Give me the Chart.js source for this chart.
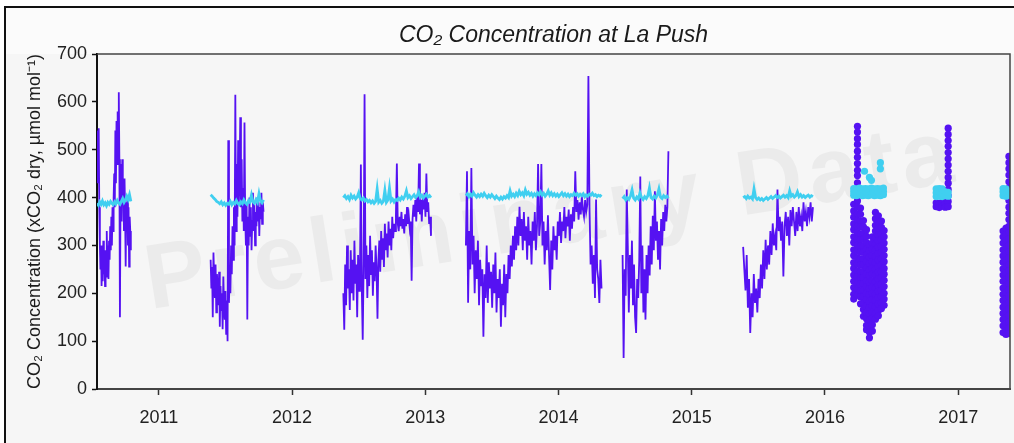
<!DOCTYPE html>
<html>
<head>
<meta charset="utf-8">
<title>CO2 Concentration at La Push</title>
<script src="https://cdn.jsdelivr.net/npm/chart.js@4.4.0/dist/chart.umd.min.js"></script>
<style>
  html, body { margin: 0; padding: 0; background: #ffffff; }
  #wrap { position: relative; width: 1014px; height: 443px; }
</style>
</head>
<body>
<div id="wrap"><canvas id="co2" width="1014" height="443"></canvas></div>
<script>
// ---- axis settings ----
const yearTicks = [2011, 2012, 2013, 2014, 2015, 2016, 2017];
const yTickValues = [0, 50, 100, 150, 200, 250, 300, 350, 400, 450, 500, 550, 600, 650, 700];
const xRange = [2010.536, 2017.389];
const yRange = [0, 700];

// ---- continuous moorings: [start, end] in decimal years ----
const mooringSpans = [
  [2010.536, 2010.790],
  [2011.389, 2011.786],
  [2012.385, 2013.043],
  [2013.305, 2014.323],
  [2014.481, 2014.825],
  [2015.386, 2015.910]
];

// seawater xCO2 (µmol/mol), evenly sampled across each mooring span
const sw2010 = [540, 430, 510, 545, 380, 300, 250, 300, 215, 280, 225, 310, 240, 270, 215, 290, 235, 330, 260, 300,
  230, 310, 270, 340, 290, 360, 300, 380, 330, 400, 450, 380, 540, 430, 560, 470, 580, 500, 620, 480,
  150, 400, 470, 350, 480, 390, 420, 330, 440, 370, 256, 390, 340, 400, 300, 380, 256, 360, 330, 290];
const sw2011 = [270, 210, 255, 150, 285, 230, 190, 260, 160, 240, 200, 175, 245, 130, 215, 165, 200, 125, 235, 170,
  145, 205, 115, 185, 100, 520, 180, 250, 200, 300, 240, 340, 270, 380, 300, 615, 330, 470, 360, 520,
  390, 440, 568, 380, 480, 350, 420, 330, 557, 360, 300, 390, 145, 360, 300, 400, 320, 380, 290, 350,
  410, 330, 385, 300, 370, 340, 400, 350, 390, 320, 380, 355, 410, 345, 390, 370];
const sw2012 = [200, 124, 260, 175, 300, 210, 250, 165, 290, 200, 270, 185, 310, 220, 260, 150, 280, 205, 240, 469,
  210, 103, 260, 616, 230, 300, 190, 280, 215, 320, 240, 290, 195, 265, 225, 300, 250, 147, 270, 310,
  245, 330, 270, 315, 255, 345, 290, 325, 275, 350, 300, 335, 290, 360, 315, 345, 330, 365, 471, 345,
  330, 360, 340, 370, 335, 355, 325, 365, 340, 380, 345, 360, 335, 350, 226, 355, 385, 360, 395, 350,
  400, 370, 471, 365, 395, 350, 400, 375, 410, 360, 450, 370, 390, 345, 360, 320];
const sw2013 = [300, 455, 180, 330, 250, 462,
  260, 320, 200, 290, 230, 310, 175, 270, 215, 250, 109, 240, 190, 300, 180, 265, 210, 245,
  170, 260, 200, 285, 160, 230, 190, 250, 130, 220, 175, 260, 150, 240, 200, 280,
  230, 300, 256, 320, 270, 340, 290, 360, 300, 381, 320, 355, 290, 370, 310,
  340, 270, 360, 300, 330, 260, 350, 310, 370, 290, 340, 470, 320, 350, 470,
  300, 350, 260, 330, 290, 363, 280, 207, 310, 250, 340, 290, 320, 270, 350,
  320, 370, 305, 350, 330, 380, 315, 360, 340, 375, 310, 365, 335, 380, 350, 455,
  370, 395, 354, 390, 365, 402, 375, 360, 395, 370, 385, 654,
  380, 260, 300, 220, 280, 190, 396, 250, 230, 180, 270, 210];
const sw2014 = [280, 65, 250, 195, 417, 300, 160, 280, 210, 310, 175, 260, 150, 117, 230, 190, 270, 444, 200, 300,
  160, 250, 145, 280, 200, 300, 237, 340, 260, 362, 290, 413, 310, 350, 270, 330, 250, 355, 300, 370,
  330, 385, 350, 380, 497];
const sw2015 = [297, 250, 206, 280, 170, 230, 117, 200, 150, 240, 180, 210, 160, 230, 190, 260, 210, 290, 230, 312,
  250, 300, 260, 330, 280, 346, 300, 320, 290, 417, 330, 360, 310, 350, 235, 340, 370, 320, 360, 300,
  374, 340, 380, 350, 320, 370, 330, 380, 340, 360, 330, 390, 350, 370, 340, 380, 360, 390, 350, 380];

// atmospheric xCO2 (µmol/mol), same spans
const air2010 = [388, 384, 391, 386, 393, 385, 389, 383, 390, 386, 392, 388, 385, 391, 387, 394, 389, 386, 392, 398,
  390, 395, 403, 396, 406, 392];
const air2011 = [406, 403, 399, 396, 392, 390, 387, 391, 385, 389, 384, 388, 386, 392, 385, 390, 387, 394, 388, 385,
  391, 387, 395, 389, 386, 393, 390, 405, 391, 388, 396, 390, 408, 393, 389, 395];
const air2012 = [400, 404, 398, 402, 396, 405, 399, 403, 397, 401, 410, 398, 395, 399, 393, 396, 391, 394, 389, 393,
  388, 392, 418, 390, 394, 388, 392, 415, 390, 395, 420, 393, 397, 391, 396, 394, 399, 395, 401, 397,
  403, 414, 400, 404, 398, 402, 406, 400, 404, 412, 401, 405, 399, 403, 407, 401, 404, 400];
const air2013 = [404, 408, 402, 407, 403, 410, 405, 401, 406, 402, 407, 403, 409, 404, 400, 405, 401, 406, 402, 398,
  403, 399, 396, 401, 397, 402, 399, 404, 400, 414, 403, 407, 402, 409, 404, 413, 406, 410, 404, 416,
  407, 411, 405, 409, 403, 408, 404, 410, 406, 412, 405, 409, 403, 407, 414, 405, 410, 404, 408, 403,
  407, 402, 406, 410, 404, 408, 403, 407, 402, 406, 404, 409, 405, 408, 403, 407, 404, 408, 402, 406,
  403, 407, 405, 409, 404, 406, 402, 405, 403, 406];
const air2014 = [398, 402, 395, 400, 396, 403, 416, 399, 395, 401, 397, 410, 400, 396, 402, 398, 404, 420, 400, 397,
  403, 399, 405, 418, 401, 398, 404, 400, 403, 399];
const air2015 = [400, 402, 398, 403, 399, 401, 397, 418, 400, 396, 399, 395, 398, 394, 397, 400, 396, 399, 402, 398,
  401, 404, 400, 403, 399, 402, 405, 401, 404, 400, 414, 403, 406, 401, 404, 412, 402, 406, 401, 404,
  400, 403, 405, 401, 404, 402];

const seawaterRuns = [sw2010, sw2011, sw2012, sw2013, sw2014, sw2015];
const airRuns = [air2010, air2011, air2012, air2013, air2014, air2015];

// ---- discrete samples from 2016 on: [time, readings at that time] ----
const seawaterSamples = [
  [2016.216, [386, 372, 359, 345, 333, 318, 306, 291, 279, 264, 252, 238, 225, 212, 198, 188]],
  [2016.244, [549, 537, 523, 511, 497, 484, 471, 457, 446, 431, 419, 404, 393, 380, 366, 353, 340, 327, 313, 300, 288, 274, 261, 247, 235, 221, 209, 196]],
  [2016.267, [378, 365, 351, 339, 324, 312, 298, 286, 271, 259, 245, 232, 219, 205, 192, 178]],
  [2016.289, [352, 339, 325, 313, 298, 286, 272, 260, 246, 233, 220, 207, 193, 180, 166, 152]],
  [2016.312, [333, 319, 306, 292, 280, 266, 253, 240, 226, 214, 200, 187, 173, 160, 147, 133, 124]],
  [2016.334, [302, 289, 276, 262, 249, 237, 223, 210, 197, 183, 170, 157, 144, 131, 119, 107]],
  [2016.356, [318, 305, 292, 278, 266, 252, 240, 226, 213, 200, 187, 174, 160, 148, 134, 121]],
  [2016.379, [369, 356, 342, 330, 316, 303, 290, 277, 264, 250, 238, 224, 211, 198, 185, 172, 158, 146]],
  [2016.401, [362, 349, 336, 322, 310, 296, 283, 270, 256, 244, 230, 217, 204, 191, 178, 164, 153]],
  [2016.424, [351, 338, 324, 312, 298, 285, 272, 259, 245, 233, 219, 206, 193, 180, 168]],
  [2016.444, [331, 318, 305, 292, 279, 266, 252, 240, 227, 214, 200, 188, 175]],
  [2016.835, [389, 381]],
  [2016.858, [388, 379]],
  [2016.880, [390, 382]],
  [2016.903, [387, 380, 398]],
  [2016.925, [545, 532, 519, 507, 494, 481, 468, 455, 442, 430, 417, 404, 392, 381]],
  [2017.337, [330, 318, 305, 291, 278, 265, 251, 238, 225, 211, 198, 185, 171, 158, 145, 132, 118]],
  [2017.359, [336, 322, 309, 296, 282, 269, 256, 242, 229, 216, 202, 189, 176, 162, 149, 136, 122, 114]],
  [2017.381, [486, 473, 460, 447, 433, 420, 407, 394, 380, 367, 354, 340, 327, 314, 300, 287, 274, 260, 247, 234, 220, 207, 194, 180, 167, 154, 140, 127, 116]],
  [2017.404, [480, 466, 453, 440, 426, 413, 400, 386, 373, 360, 346, 333, 320, 306, 293, 280, 266, 253, 240, 226, 213, 200, 186, 173, 160, 146, 133, 120]]
];
const airSamples = [
  [2016.216, [405, 412, 419]],
  [2016.237, [404, 411, 418]],
  [2016.259, [406, 413, 420]],
  [2016.282, [404, 411, 418]],
  [2016.297, [455]],
  [2016.304, [405, 412, 419]],
  [2016.326, [404, 411, 418]],
  [2016.334, [442]],
  [2016.349, [406, 413, 420, 436]],
  [2016.371, [404, 411, 418]],
  [2016.394, [405, 412, 419]],
  [2016.416, [404, 411, 418, 460, 473]],
  [2016.439, [406, 413, 420]],
  [2016.835, [402, 410, 418]],
  [2016.858, [403, 411, 419]],
  [2016.880, [402, 410, 418]],
  [2016.903, [404, 412]],
  [2016.925, [403, 411]],
  [2017.337, [404, 412, 419]],
  [2017.359, [403, 411, 418]],
  [2017.381, [405, 413]]
];

// ---- colours ----
const seawaterColor = '#5512f2';
const airColor = '#40cff0';
const fontFamily = '"Liberation Sans", Arial, Helvetica, sans-serif';

// spread each mooring's readings over its span; a null point breaks the line between moorings
function mooringPoints(runs) {
  const pts = [];
  runs.forEach((vals, k) => {
    const [t0, t1] = mooringSpans[k];
    vals.forEach((v, i) => pts.push({ x: t0 + (t1 - t0) * i / (vals.length - 1), y: v }));
    pts.push({ x: t1 + 0.005, y: null });
  });
  return pts;
}
function samplePoints(samples) {
  const pts = [];
  samples.forEach(([t, vals]) => vals.forEach(v => pts.push({ x: t, y: v })));
  return pts;
}

const W = 1014, H = 443;

const decor = {
  id: 'decor',
  beforeDraw(chart) {
    const { ctx } = chart;
    ctx.save();
    ctx.fillStyle = '#ffffff';
    ctx.fillRect(0, 0, W, H);
    ctx.fillStyle = '#f6f6f6';
    ctx.fillRect(5, 54, W - 5, H - 54);
    ctx.fillStyle = '#fbfbfb';
    ctx.fillRect(5, 7, W - 5, 47);
    // watermark
    ctx.translate(552, 220);
    ctx.rotate(-9 * Math.PI / 180);
    ctx.font = 'bold 92px ' + fontFamily;
    if ('letterSpacing' in ctx) ctx.letterSpacing = '6px';
    ctx.fillStyle = 'rgba(0,0,0,0.045)';
    ctx.textAlign = 'center';
    ctx.textBaseline = 'middle';
    ctx.fillText('Preliminary Data', 0, 0);
    ctx.restore();
  },
  afterDraw(chart) {
    const { ctx, chartArea: a } = chart;
    ctx.save();
    // outer frame
    ctx.strokeStyle = '#111';
    ctx.lineWidth = 2;
    ctx.beginPath();
    ctx.moveTo(5, H);
    ctx.lineTo(5, 7);
    ctx.lineTo(W, 7);
    ctx.stroke();
    // plot box top and right edges
    ctx.strokeStyle = '#444';
    ctx.lineWidth = 1.5;
    ctx.beginPath();
    ctx.moveTo(a.left, a.top);
    ctx.lineTo(a.right, a.top);
    ctx.lineTo(a.right, a.bottom);
    ctx.stroke();
    // title
    ctx.fillStyle = '#1a1a1a';
    ctx.font = 'italic 23px ' + fontFamily;
    ctx.textAlign = 'center';
    ctx.textBaseline = 'middle';
    ctx.fillText('CO\u2082 Concentration at La Push', (a.left + a.right) / 2, 36);
    ctx.restore();
  }
};

new Chart(document.getElementById('co2'), {
  type: 'line',
  data: {
    datasets: [
      {
        label: 'Air xCO2 (discrete)',
        data: samplePoints(airSamples),
        showLine: false,
        pointRadius: 3.6,
        pointBorderWidth: 0,
        pointBackgroundColor: airColor,
        borderColor: airColor
      },
      {
        label: 'Air xCO2',
        data: mooringPoints(airRuns),
        borderColor: airColor,
        borderWidth: 2.8,
        pointRadius: 0,
        spanGaps: false,
        tension: 0
      },
      {
        label: 'Seawater xCO2 (discrete)',
        data: samplePoints(seawaterSamples),
        showLine: false,
        pointRadius: 3.6,
        pointBorderWidth: 0,
        pointBackgroundColor: seawaterColor,
        borderColor: seawaterColor
      },
      {
        label: 'Seawater xCO2',
        data: mooringPoints(seawaterRuns),
        borderColor: seawaterColor,
        borderWidth: 1.8,
        pointRadius: 0,
        spanGaps: false,
        tension: 0
      }
    ]
  },
  options: {
    responsive: false,
    animation: false,
    devicePixelRatio: 1,
    events: [],
    layout: { padding: { left: 0, top: 54, right: 1, bottom: 0 } },
    plugins: {
      legend: { display: false },
      tooltip: { enabled: false },
      title: { display: false }
    },
    scales: {
      x: {
        type: 'linear',
        min: xRange[0],
        max: xRange[1],
        afterBuildTicks: s => { s.ticks = yearTicks.map(v => ({ value: v })); },
        afterFit: s => { s.height = 54; },
        ticks: {
          autoSkip: false,
          maxRotation: 0,
          color: '#222',
          padding: 12,
          font: { family: fontFamily, size: 18 },
          callback: v => String(v)
        },
        grid: { drawOnChartArea: false, drawTicks: true, tickLength: 6, tickColor: '#333', tickWidth: 1.5 },
        border: { display: true, color: '#444', width: 2 }
      },
      y: {
        min: yRange[0],
        max: yRange[1],
        afterBuildTicks: s => { s.ticks = yTickValues.map(v => ({ value: v })); },
        afterFit: s => { s.width = 97; },
        ticks: {
          color: '#222',
          padding: 5,
          font: { family: fontFamily, size: 18 },
          callback: v => (v % 100 === 0 ? String(v) : '')
        },
        grid: { drawOnChartArea: false, drawTicks: true, tickLength: 5, tickColor: '#111', tickWidth: 1.5 },
        border: { display: true, color: '#111', width: 2 },
        title: {
          display: true,
          text: 'CO\u2082 Concentration (xCO\u2082 dry, \u00b5mol mol\u207b\u00b9)',
          color: '#1a1a1a',
          font: { family: fontFamily, size: 18 },
          padding: { top: 24, bottom: 0 }
        }
      }
    }
  },
  plugins: [decor]
});
</script>
</body>
</html>
